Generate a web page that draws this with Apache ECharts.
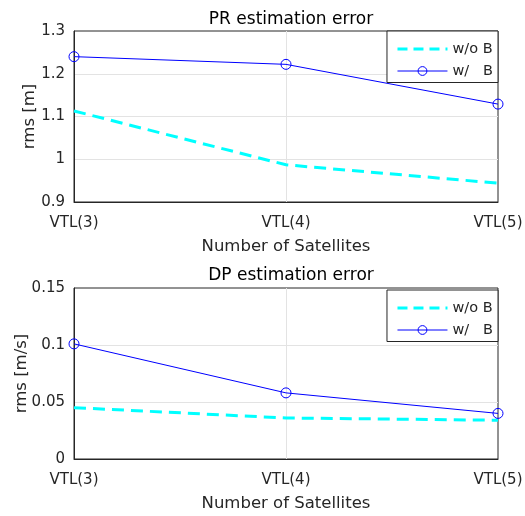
<!DOCTYPE html>
<html><head><meta charset="utf-8">
<script src="https://cdn.jsdelivr.net/npm/echarts@6/dist/echarts.min.js"></script>
<style>html,body{margin:0;padding:0;background:#fff}#c{width:525px;height:516px}</style>
</head><body><div id="c"></div>
<script>
const categories = ['VTL(3)', 'VTL(4)', 'VTL(5)'];
const prWithoutB = [1.113, 0.987, 0.944];
const prWithB = [1.240, 1.222, 1.129];
const dpWithoutB = [0.045, 0.036, 0.034];
const dpWithB = [0.101, 0.058, 0.040];
const prTicks = {min: 0.9, max: 1.3, interval: 0.1};
const dpTicks = {min: 0, max: 0.15, interval: 0.05};
const seriesNames = ['w/o B', 'w/   B'];

const FONT = 'DejaVu Sans';
const TXT = '#262626';
const DASH = [12, 7];
const chart = echarts.init(document.getElementById('c'));

function xAxis(gi) {
  return {
    type: 'category', gridIndex: gi, data: categories, boundaryGap: false,
    name: 'Number of Satellites', nameLocation: 'middle', nameGap: 36, nameMoveOverlap: false,
    nameTextStyle: {fontFamily: FONT, fontSize: 16.5, color: TXT},
    axisLine: {show: true, lineStyle: {color: TXT, width: 1}},
    axisTick: {show: false},
    axisLabel: {fontFamily: FONT, fontSize: 15, color: TXT, margin: 14},
    splitLine: {show: true, showMinLine: false, showMaxLine: false, lineStyle: {color: '#e3e3e3', width: 1}}
  };
}
function yAxis(gi, t, name, gap) {
  return {
    type: 'value', gridIndex: gi, min: t.min, max: t.max, interval: t.interval,
    name: name, nameLocation: 'middle', nameGap: gap, nameMoveOverlap: false,
    nameTextStyle: {fontFamily: FONT, fontSize: 16.5, color: TXT},
    axisLine: {show: true, lineStyle: {color: TXT, width: 1}},
    axisTick: {show: false},
    axisLabel: {fontFamily: FONT, fontSize: 15, color: TXT, margin: 9,
                formatter: v => String(Math.round(v * 1000) / 1000)},
    splitLine: {show: true, showMinLine: false, showMaxLine: false, lineStyle: {color: '#e3e3e3', width: 1}}
  };
}

function dashed(name, gi, data) {
  return {
    name: name, type: 'line', xAxisIndex: gi, yAxisIndex: gi, data: data,
    symbol: 'none', lineStyle: {color: '#00ffff', width: 3, type: DASH},
    itemStyle: {color: '#00ffff'}, silent: true, animation: false, z: 3
  };
}
function marked(name, gi, data) {
  return {
    name: name, type: 'line', xAxisIndex: gi, yAxisIndex: gi, data: data,
    symbol: 'circle', symbolSize: 10, showAllSymbol: true,
    lineStyle: {color: '#0000ff', width: 1},
    itemStyle: {color: 'rgba(0,0,0,0)', borderColor: '#0000ff', borderWidth: 1},
    silent: true, animation: false, z: 4
  };
}
function legend(top) {
  return {
    data: [
      {name: seriesNames[0], itemStyle: {opacity: 0},
       lineStyle: {color: '#00ffff', width: 3, type: [10, 6]}},
      {name: seriesNames[1], itemStyle: {color: 'rgba(0,0,0,0)', borderColor: '#0000ff', borderWidth: 1},
       lineStyle: {color: '#0000ff', width: 1, type: 'solid'}}
    ],
    orient: 'vertical', right: 27, top: top,
    padding: [10.5, 5, 4, 9], itemWidth: 50, itemHeight: 11, itemGap: 7,
    borderColor: TXT, borderWidth: 1, backgroundColor: '#fff',
    textStyle: {fontFamily: FONT, fontSize: 14.5, color: TXT},
    selectedMode: false
  };
}

chart.setOption({
  animation: false,
  title: [
    {text: 'PR estimation error', left: 286, textAlign: 'center', top: 6,
     textStyle: {fontFamily: FONT, fontSize: 17, fontWeight: 'normal', color: '#000'}},
    {text: 'DP estimation error', left: 286, textAlign: 'center', top: 262,
     textStyle: {fontFamily: FONT, fontSize: 17, fontWeight: 'normal', color: '#000'}}
  ],
  grid: [
    {left: 74, right: 27, top: 31, height: 171, show: true, borderColor: TXT, borderWidth: 1,
     backgroundColor: '#fff', containLabel: false, outerBoundsMode: 'none'},
    {left: 74, right: 27, top: 288, height: 171, show: true, borderColor: TXT, borderWidth: 1,
     backgroundColor: '#fff', containLabel: false, outerBoundsMode: 'none'}
  ],
  xAxis: [xAxis(0), xAxis(1)],
  yAxis: [yAxis(0, prTicks, 'rms [m]', 36), yAxis(1, dpTicks, 'rms [m/s]', 44)],
  legend: [legend(31), legend(290)],
  series: [
    dashed(seriesNames[0], 0, prWithoutB),
    marked(seriesNames[1], 0, prWithB),
    dashed(seriesNames[0], 1, dpWithoutB),
    marked(seriesNames[1], 1, dpWithB)
  ]
});
</script></body></html>
